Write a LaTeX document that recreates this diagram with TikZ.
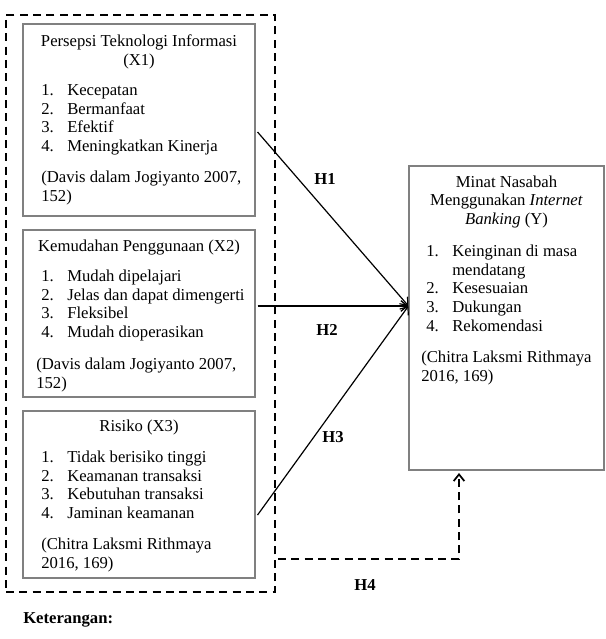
\documentclass[tikz,border=0pt]{standalone}
\usepackage{fontspec}
\setmainfont{Liberation Serif}
\usetikzlibrary{arrows.meta}
\definecolor{boxgray}{RGB}{128,128,128}
\tikzset{
  box/.style={draw=boxgray, line width=0.8pt, rectangle, inner sep=0pt},
  txt/.style={inner sep=0pt, font=\fontsize{12.5}{14}\selectfont},
  lbl/.style={inner sep=0pt, font=\fontsize{12.5}{14}\selectfont\bfseries},
  grpbox/.style={draw, line width=1.6pt, dash pattern=on 6pt off 4pt, inner sep=0pt, rectangle},
  hyp/.style={line width=0.9pt, -{Straight Barb[length=5pt,width=8pt,line width=0.9pt]}},
  hypd/.style={line width=1.6pt, dash pattern=on 6pt off 4pt, -{Straight Barb[length=5pt,width=8pt,line width=1.3pt]}}
}
\newcommand{\lst}[1]{\begin{tabular}[t]{@{}p{19.5pt}@{}l@{}}#1\end{tabular}}
\begin{document}
\begin{tikzpicture}[x=0.75pt,y=-0.75pt]
\useasboundingbox (0,0) rectangle (606,639);
% outer dashed group
\node[grpbox, minimum width=201.75pt, minimum height=432.75pt] (grp) at (140.5,303.5) {};
% boxes
\node[box, minimum width=174pt, minimum height=144pt] (X1) at (139,120) {};
\node[box, minimum width=174pt, minimum height=125.25pt] (X2) at (139,313.5) {};
\node[box, minimum width=174pt, minimum height=125.25pt] (X3) at (139,494.5) {};
\node[box, minimum width=146.25pt, minimum height=228pt] (Y) at (506.5,318) {};
% X1 text
\node[txt, anchor=base, align=center] (x1t) at (139,65.5) {Persepsi Teknologi Informasi\\(X1)};
\node[txt, anchor=base west] (x1l) at (41,95.5) {\lst{1.&Kecepatan\\2.&Bermanfaat\\3.&Efektif\\4.&Meningkatkan Kinerja}};
\node[txt, anchor=base west, align=left] (x1c) at (41,201.5) {(Davis dalam Jogiyanto 2007,\\152)};
% X2 text
\node[txt, anchor=base] (x2t) at (139,251.5) {Kemudahan Penggunaan (X2)};
\node[txt, anchor=base west] (x2l) at (41,281.5) {\lst{1.&Mudah dipelajari\\2.&Jelas dan dapat dimengerti\\3.&Fleksibel\\4.&Mudah dioperasikan}};
\node[txt, anchor=base west, align=left] (x2c) at (36,388.5) {(Davis dalam Jogiyanto 2007,\\152)};
% X3 text
\node[txt, anchor=base] (x3t) at (139,431.5) {Risiko (X3)};
\node[txt, anchor=base west] (x3l) at (41,462.5) {\lst{1.&Tidak berisiko tinggi\\2.&Keamanan transaksi\\3.&Kebutuhan transaksi\\4.&Jaminan keamanan}};
\node[txt, anchor=base west, align=left] (x3c) at (41,568.5) {(Chitra Laksmi Rithmaya\\2016, 169)};
% Y text
\node[txt, anchor=base, align=center] (yt) at (506.5,224.5) {Minat Nasabah\\Menggunakan \textit{Internet}\\\textit{Banking} (Y)};
\node[txt, anchor=base west] (yl) at (426,256.5) {\lst{1.&Keinginan di masa\\&mendatang\\2.&Kesesuaian\\3.&Dukungan\\4.&Rekomendasi}};
\node[txt, anchor=base west, align=left] (yc) at (421,381.5) {(Chitra Laksmi Rithmaya\\2016, 169)};
% arrows
\coordinate (tip) at ([yshift=9pt]Y.west);
\draw[hyp] ([xshift=1.5pt,yshift=-9pt]X1.east) -- (tip);
\draw[hyp] ([xshift=1.5pt]X2.east |- tip) -- (tip);
\draw[hyp] ([xshift=1.5pt,yshift=-15.4pt]X3.east) -- (tip);
% H4
\coordinate (h4s) at (278,559);
\coordinate (h4e) at (459,473);
\draw[hypd] (h4s) -| (h4e);
% labels
\node[lbl] (H1) at (325,179) {H1};
\node[lbl] (H2) at (327,330) {H2};
\node[lbl] (H3) at (333,437) {H3};
\node[lbl] (H4) at (365,585) {H4};
\node[lbl, anchor=west] (ket) at (23,620) {Keterangan:};
\end{tikzpicture}
\end{document}
